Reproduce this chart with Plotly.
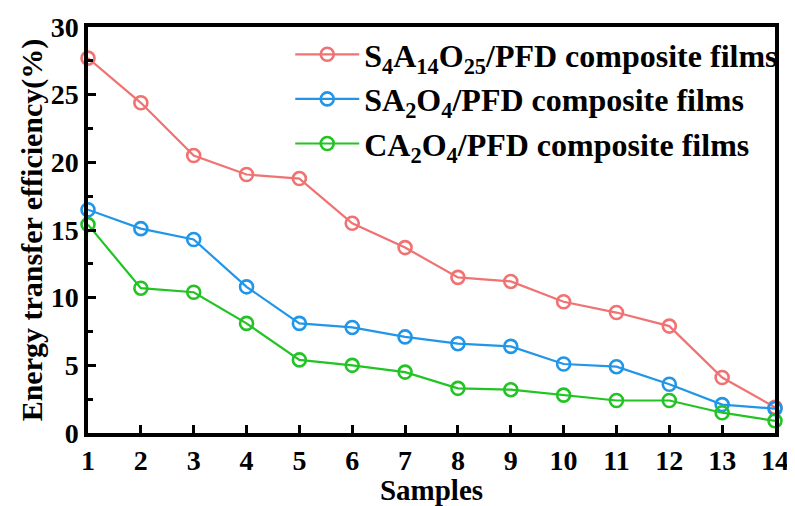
import plotly.graph_objects as go

samples = list(range(1, 15))
s4a14o25 = [27.7, 24.4, 20.5, 19.1, 18.8, 15.5, 13.7, 11.5, 11.2, 9.7, 8.9, 7.9, 4.1, 1.9]
sa2o4 = [16.5, 15.1, 14.3, 10.8, 8.1, 7.8, 7.1, 6.6, 6.4, 5.1, 4.9, 3.6, 2.1, 1.8]
ca2o4 = [15.4, 10.7, 10.4, 8.1, 5.4, 5.0, 4.5, 3.3, 3.2, 2.8, 2.4, 2.4, 1.5, 0.9]

names = ["S<sub>4</sub>A<sub>14</sub>O<sub>25</sub>/PFD composite films",
         "SA<sub>2</sub>O<sub>4</sub>/PFD composite films",
         "CA<sub>2</sub>O<sub>4</sub>/PFD composite films"]
colors = ["#F07272", "#2196E8", "#22C424"]
series = [s4a14o25, sa2o4, ca2o4]

fig = go.Figure()
for i, (nm, c, ys) in enumerate(zip(names, colors, series)):
    fig.add_trace(go.Scatter(
        x=samples, y=ys, mode="lines+markers", name=nm, legendgroup=f"g{i}",
        line=dict(color=c, width=2.2),
        marker=dict(symbol="circle-open", size=13, color=c, line=dict(width=2.6, color=c)),
        cliponaxis=False,
    ))

font_family = "Liberation Serif, Times New Roman, serif"
fig.update_layout(
    width=787, height=498,
    margin=dict(l=80, r=18, t=19, b=73),
    paper_bgcolor="white", plot_bgcolor="white",
    font=dict(family=font_family, size=26, color="black"),
    showlegend=True,
    legend=dict(x=1.012, y=1.0, xanchor="right", yanchor="top",
                bgcolor="rgba(0,0,0,0)", borderwidth=0,
                font=dict(family=font_family, size=32, color="black", weight="bold"),
                itemwidth=64, tracegroupgap=0),
    xaxis=dict(range=[1, 14], tickvals=samples, ticktext=[str(s) for s in samples],
               automargin=False,
               showline=True, mirror=True, linecolor="black", linewidth=3.5,
               ticks="inside", ticklen=8, tickwidth=3, tickcolor="black",
               showgrid=False, zeroline=False,
               tickfont=dict(family=font_family, size=28, weight="bold"),
               title=dict(text="<b>Samples</b>", font=dict(family=font_family, size=29), standoff=0)),
    yaxis=dict(range=[0, 30], tickvals=[0, 5, 10, 15, 20, 25, 30],
               automargin=False,
               showline=True, mirror=True, linecolor="black", linewidth=3.5,
               ticks="inside", ticklen=8, tickwidth=3, tickcolor="black",
               minor=dict(ticks="inside", ticklen=5, tickwidth=2.5, tickcolor="black", dtick=2.5, showgrid=False),
               showgrid=False, zeroline=False,
               tickfont=dict(family=font_family, size=28, weight="bold"),
               title=dict(text="<b>Energy transfer efficiency(%)</b>", font=dict(family=font_family, size=30), standoff=0)),
)

fig.write_html("out.html")
